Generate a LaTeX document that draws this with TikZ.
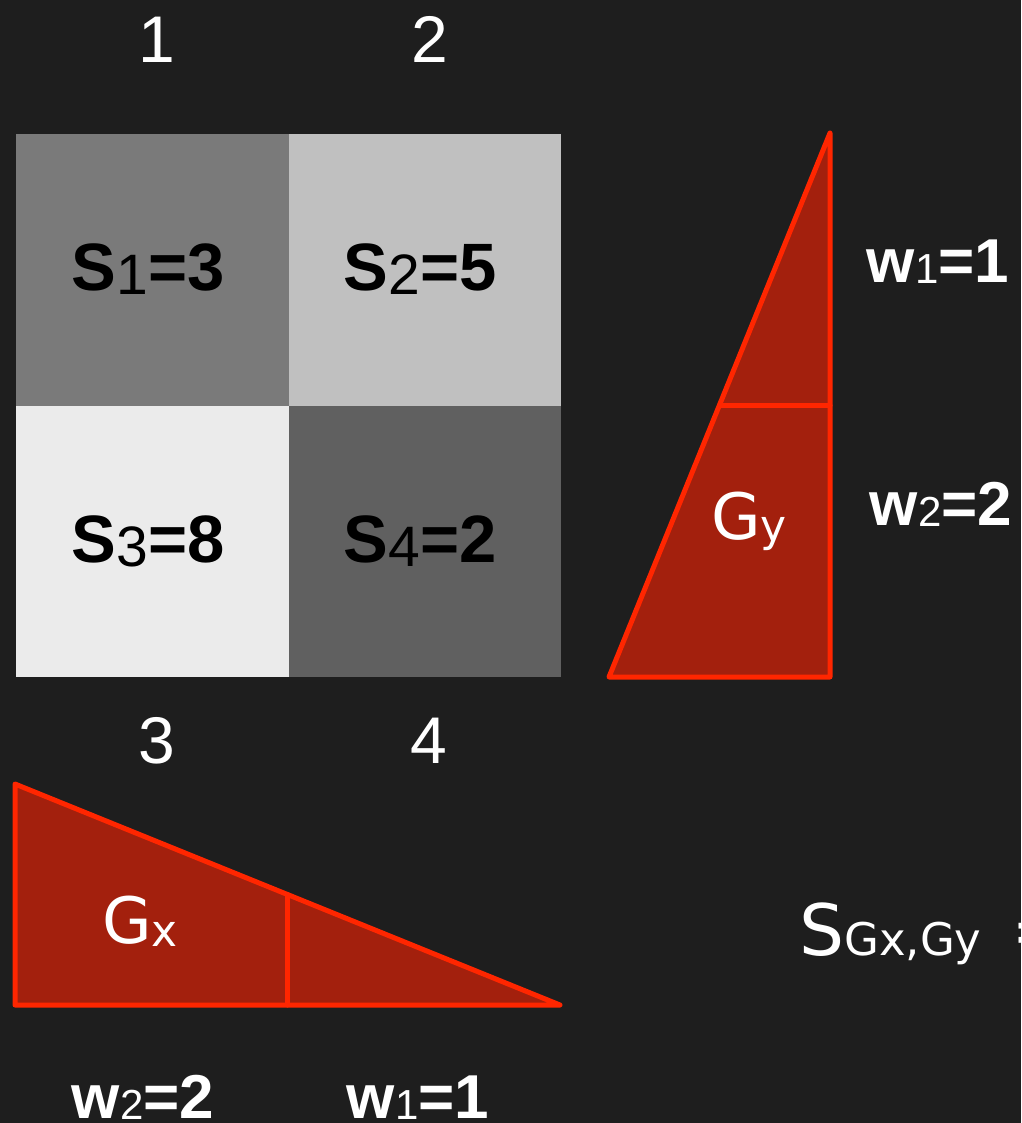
\documentclass[tikz,border=0pt]{standalone}
\usepackage{fontspec}
\setmainfont{Liberation Sans}
\newfontfamily\gfont{DejaVu Sans}
\usetikzlibrary{calc}
\definecolor{bg}{RGB}{30,30,30}
\definecolor{cA}{RGB}{122,122,122}
\definecolor{cB}{RGB}{192,192,192}
\definecolor{cC}{RGB}{235,235,235}
\definecolor{cD}{RGB}{96,96,96}
\definecolor{trifill}{RGB}{163,32,13}
\definecolor{tristroke}{RGB}{255,38,0}
\newcommand\mysub[3]{\raisebox{#1pt}{\fontsize{#2}{#2}\selectfont\mdseries #3}}
\begin{document}
\begin{tikzpicture}[x=1pt,y=-1pt,
  numlbl/.style={text=white, font=\fontsize{66}{66}\selectfont, anchor=base, inner sep=0},
  celllbl/.style={text=black, font=\bfseries\fontsize{67}{67}\selectfont, anchor=base, inner sep=0},
  wlbl/.style={text=white, font=\bfseries\fontsize{62}{62}\selectfont, anchor=base, inner sep=0},
  glbl/.style={text=white, font=\gfont\fontsize{64}{64}\selectfont, anchor=base, inner sep=0},
  cellbox/.style={draw=none, inner sep=0, minimum width=273, minimum height=272, anchor=north west},
  tri/.style={draw=tristroke, fill=trifill, line width=5pt, line join=round, line cap=round},
  triline/.style={draw=tristroke, line width=5pt, line cap=round}]
\useasboundingbox (0,0) rectangle (1021,1123);
\fill[bg] (0,0) rectangle (1021,1123);

% grid cells
\node[cellbox, fill=cA, minimum width=273, minimum height=272] (c1) at (16,134) {};
\node[cellbox, fill=cB, minimum width=272, minimum height=272] (c2) at (289,134) {};
\node[cellbox, fill=cC, minimum width=273, minimum height=271] (c3) at (16,406) {};
\node[cellbox, fill=cD, minimum width=272, minimum height=271] (c4) at (289,406) {};

\node[celllbl] (s1) at (148,290) {S\mysub{-4}{57}{1}=3};
\node[celllbl] (s2) at (420,290) {S\mysub{-4}{57}{2}=5};
\node[celllbl] (s3) at (148,562) {S\mysub{-4}{57}{3}=8};
\node[celllbl] (s4) at (420,562) {S\mysub{-4}{57}{4}=2};

% column numbers
\node[numlbl] (n1) at (157,63) {1};
\node[numlbl] (n2) at (430,63) {2};
\node[numlbl] (n3) at (157,763) {3};
\node[numlbl] (n4) at (429,763) {4};

% Gy triangle
\coordinate (gyA) at (609,677);
\coordinate (gyB) at (830,677);
\coordinate (gyC) at (830,133);
\path[tri] (gyA) -- (gyB) -- (gyC) -- cycle;
\coordinate (gyM1) at ($(gyA)!0.5!(gyC)$);
\coordinate (gyM2) at ($(gyB)!0.5!(gyC)$);
\draw[triline] (gyM1) -- (gyM2);
\node[glbl] (gy) at (749,539) {G\mysub{-2}{44}{y}};

\node[wlbl] (wy1) at (938,282) {w\mysub{-1}{42}{1}=1};
\node[wlbl] (wy2) at (941,525) {w\mysub{-1}{42}{2}=2};

% Gx triangle
\coordinate (gxA) at (15,784);
\coordinate (gxB) at (15,1005);
\coordinate (gxC) at (560,1005);
\path[tri] (gxA) -- (gxB) -- (gxC) -- cycle;
\coordinate (gxM1) at ($(gxA)!0.5!(gxC)$);
\coordinate (gxM2) at ($(gxB)!0.5!(gxC)$);
\draw[triline] (gxM1) -- (gxM2);
\node[glbl] (gx) at (140,943) {G\mysub{-3}{44}{x}};

\node[wlbl] (wx2) at (143,1118) {w\mysub{-1}{42}{2}=2};
\node[wlbl] (wx1) at (418,1118) {w\mysub{-1}{42}{1}=1};

% S_{Gx,Gy} =
\node[glbl, anchor=base west, font=\gfont\fontsize{71}{71}\selectfont] (sg) at (799,955) {S{\fontsize{45}{45}\selectfont Gx,Gy}\hspace{30pt}=};
\end{tikzpicture}
\end{document}
